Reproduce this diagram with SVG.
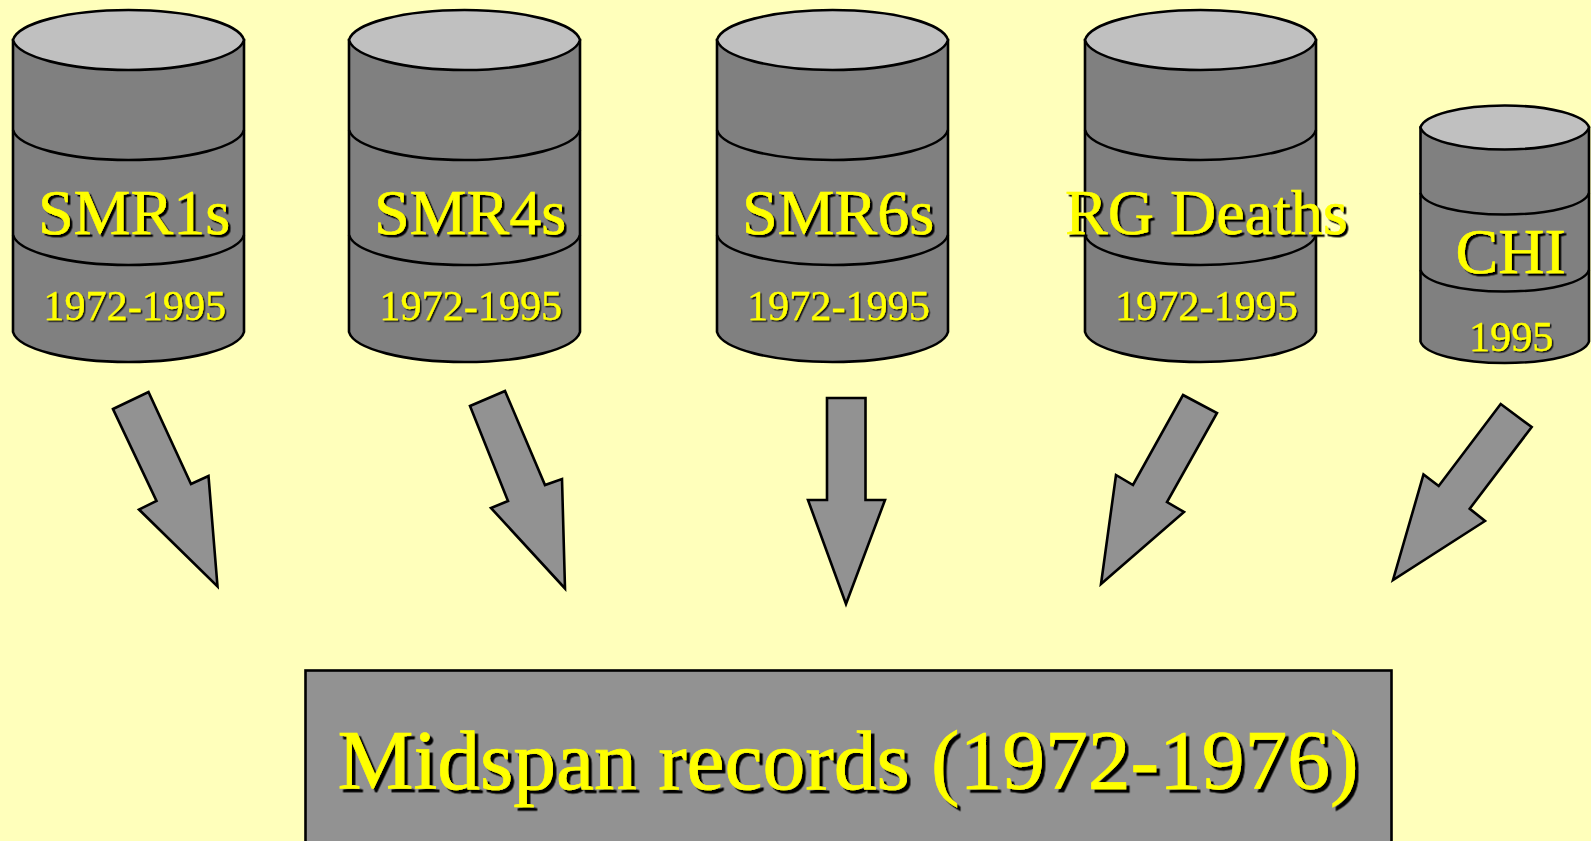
<svg xmlns="http://www.w3.org/2000/svg" xmlns:xlink="http://www.w3.org/1999/xlink" width="1591" height="841" viewBox="0 0 1591 841">
<style>
.body{fill:#808080;stroke:#000;stroke-width:2.6}
.lid{fill:#c0c0c0;stroke:#000;stroke-width:2.6}
.band{fill:none;stroke:#000;stroke-width:2.6}
.arrow{fill:#929292;stroke:#000;stroke-width:2.6;stroke-linejoin:miter}
.box{fill:#929292;stroke:#000;stroke-width:2.6}
text{font-family:"Liberation Serif","Times New Roman",serif;fill:#ffff00;stroke:#ffff00}
.name{font-size:64px;stroke-width:.5;filter:url(#sh2)}
.year{font-size:42.2px;stroke-width:.3;filter:url(#sh1)}
.title{font-size:85.5px;stroke-width:.7;filter:url(#sh3)}
</style>
<defs>
<filter id="sh1" x="-5%" y="-5%" width="110%" height="115%"><feDropShadow dx="1.5" dy="1.5" stdDeviation="0" flood-color="#000" flood-opacity="0.85"/></filter>
<filter id="sh2" x="-5%" y="-5%" width="110%" height="115%"><feDropShadow dx="2.5" dy="2.5" stdDeviation="0" flood-color="#000"/></filter>
<filter id="sh3" x="-5%" y="-5%" width="110%" height="115%"><feDropShadow dx="3.5" dy="3.5" stdDeviation="0" flood-color="#000"/></filter>
<g id="drum">
<path class="body" d="M13 40V332C18 349 68.500 362 128.500 362S239 349 244 332V40Z"/>
<path class="lid" d="M13 40C18 23 68.500 10 128.500 10S239 23 244 40C239 57 188.500 70 128.500 70S18 57 13 40Z"/>
<path class="band" d="M13 130C18 147 68.500 160 128.500 160S239 147 244 130"/>
<path class="band" d="M13 235C18 252 68.500 265 128.500 265S239 252 244 235"/>
</g>
</defs>
<rect width="1591" height="841" fill="#ffffbb"/>
<g id="connectors">
<polygon class="arrow" points="113,409 148.500,392 191,484 208.500,476 217.500,586.500 139,509.500 156.500,501"/>
<polygon class="arrow" points="470,406 505,391 545,485 562,479 565,588.500 491,508 508,501"/>
<polygon class="arrow" points="827,398 865.500,398 865.500,500 885,500 846,604 808,500 827,500"/>
<polygon class="arrow" points="1183,395 1217,413 1167,502 1184,512 1101,584 1116,475 1133,485"/>
<polygon class="arrow" points="1500.700,404 1531.700,427 1469.700,508.700 1485,521 1393,580 1423.500,474.500 1438.700,486"/>
</g>
<g id="smr1s">
<use xlink:href="#drum" href="#drum"/>
<text class="name" x="38" y="233.500">SMR1s</text>
<text class="year" x="43.300" y="320">1972-1995</text>
</g>
<g id="smr4s">
<use xlink:href="#drum" href="#drum" x="336"/>
<text class="name" x="374" y="233.500">SMR4s</text>
<text class="year" x="379.300" y="320">1972-1995</text>
</g>
<g id="smr6s">
<use xlink:href="#drum" href="#drum" x="704"/>
<text class="name" x="742" y="233.500">SMR6s</text>
<text class="year" x="747" y="320">1972-1995</text>
</g>
<g id="rg-deaths">
<use xlink:href="#drum" href="#drum" x="1072"/>
<text class="name" x="1065" y="233.500">RG Deaths</text>
<text class="year" x="1115" y="320">1972-1995</text>
</g>
<g id="chi">
<path class="body" d="M1420.500 127.500V341.500C1424.200 354 1460.800 363 1504.800 363S1585.300 354 1589 341.500V127.500Z"/>
<path class="lid" d="M1420.500 127.500C1424.200 115 1460.800 105.500 1504.800 105.500S1585.300 115 1589 127.500C1585.300 140 1548.800 149.500 1504.800 149.500S1424.200 140 1420.500 127.500Z"/>
<path class="band" d="M1420.500 193C1424.200 205.500 1460.800 214.500 1504.800 214.500S1585.300 205.500 1589 193"/>
<path class="band" d="M1420.500 270C1424.200 282.500 1460.800 291.500 1504.800 291.500S1585.300 282.500 1589 270"/>
<text class="name" x="1455.500" y="273">CHI</text>
<text class="year" x="1469" y="351">1995</text>
</g>
<g id="midspan">
<rect class="box" x="305.500" y="670.500" width="1086" height="190"/>
<text class="title" x="337.500" y="789">Midspan records (1972-1976)</text>
</g>
</svg>
